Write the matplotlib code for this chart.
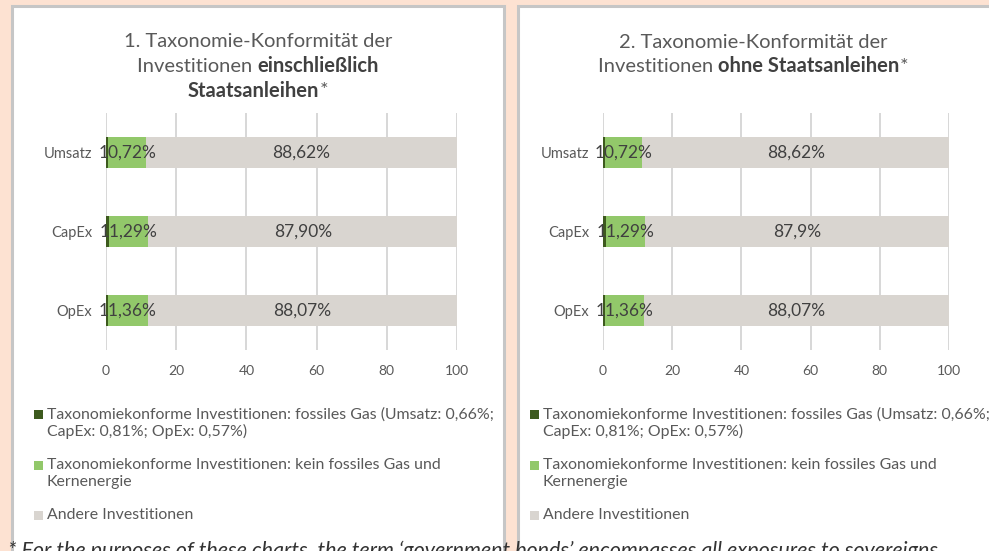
import matplotlib
matplotlib.use("Agg")
import matplotlib.pyplot as plt
from matplotlib.patches import Rectangle
import numpy as np

# === Data ===
categories = ["Umsatz", "CapEx", "OpEx"]
gas = np.array([0.66, 0.81, 0.57])
green = np.array([10.72, 11.29, 11.36])
other = np.array([88.62, 87.90, 88.07])
green_labels = ["10,72%", "11,29%", "11,36%"]
other_labels_1 = ["88,62%", "87,90%", "88,07%"]
other_labels_2 = ["88,62%", "87,9%", "88,07%"]
x_ticks = [0, 20, 40, 60, 80, 100]
legend_labels = [
    "Taxonomiekonforme Investitionen: fossiles Gas (Umsatz: 0,66%;\nCapEx: 0,81%; OpEx: 0,57%)",
    "Taxonomiekonforme Investitionen: kein fossiles Gas und\nKernenergie",
    "Andere Investitionen",
]

# colours
c_gas = "#3d5a1e"
c_green = "#92c86a"
c_other = "#d9d5d0"
c_bg = "#fde2d2"
c_border = "#c6c6c6"
c_text = "#595959"
c_label = "#404040"

plt.rcParams["font.family"] = ["Lato", "DejaVu Sans"]

W, H = 989, 551
fig = plt.figure(figsize=(W / 100, H / 100), dpi=100)
fig.patch.set_facecolor(c_bg)


def fx(px):
    return px / W


def fy(py):
    return 1 - py / H


# white panels with grey border
for x0, x1 in [(12, 504), (518, 1010)]:
    fig.patches.append(Rectangle((fx(x0), fy(570)), fx(x1 - x0), (570 - 6) / H,
                                 transform=fig.transFigure, facecolor="white",
                                 edgecolor=c_border, linewidth=2.2, zorder=-5))

renderer = fig.canvas.get_renderer()


def mixed_line(xc, yc, parts, size=14.5):
    # parts: list of (text, weight, colour); centred on xc
    arts = []
    for txt, weight, col in parts:
        t = fig.text(0, fy(yc), txt, fontsize=size, fontweight=weight, color=col,
                     ha="left", va="center")
        arts.append(t)
    widths = [t.get_window_extent(renderer).width for t in arts]
    x = xc - sum(widths) / 2
    for t, w in zip(arts, widths):
        t.set_x(fx(x))
        x += w


def draw_panel(left_px, right_px, other_labels, gas_vals):
    ax = fig.add_axes([fx(left_px), fy(350), fx(right_px - left_px), (350 - 113) / H])
    ax.set_zorder(2)
    y = np.arange(len(categories))
    h = 0.39
    ax.barh(y, gas_vals, height=h, color=c_gas, zorder=3)
    ax.barh(y, green, left=gas_vals, height=h, color=c_green, zorder=3)
    ax.barh(y, other, left=gas_vals + green, height=h, color=c_other, zorder=3)
    for i in range(len(categories)):
        ax.text(gas_vals[i] + green[i] / 2, y[i], green_labels[i], ha="center", va="center",
                fontsize=12.5, color=c_label, zorder=4)
        ax.text(gas_vals[i] + green[i] + other[i] / 2, y[i], other_labels[i], ha="center",
                va="center", fontsize=12.5, color=c_label, zorder=4)
    ax.set_xlim(0, 100)
    ax.set_ylim(2.5, -0.5)
    ax.set_xticks(x_ticks)
    ax.set_xticklabels([str(v) for v in x_ticks])
    ax.set_yticks(y)
    ax.set_yticklabels(categories)
    ax.tick_params(axis="x", length=0, pad=11, labelsize=10, labelcolor=c_text)
    ax.tick_params(axis="y", length=0, pad=10, labelsize=10.5, labelcolor=c_text)
    ax.grid(axis="x", color="#d4d4d4", linewidth=1.3, zorder=0)
    ax.set_axisbelow(True)
    for s in ax.spines.values():
        s.set_visible(False)
    ax.patch.set_alpha(0)
    return ax


draw_panel(106, 457, other_labels_1, gas)
draw_panel(603, 949, other_labels_2, gas)

# titles
mixed_line(258, 41, [("1. Taxonomie-Konformität der", "normal", c_text)])
mixed_line(258, 66, [("Investitionen ", "normal", c_text), ("einschließlich", "bold", c_label)])
mixed_line(258, 91, [("Staatsanleihen", "bold", c_label), ("*", "normal", c_text)])
mixed_line(753, 42, [("2. Taxonomie-Konformität der", "normal", c_text)])
mixed_line(753, 66, [("Investitionen ", "normal", c_text), ("ohne Staatsanleihen", "bold", c_label),
                     ("*", "normal", c_text)])

# legends
legend_colors = [c_gas, c_green, c_other]
legend_y = [415, 466, 516]
for sq_x in [34, 530]:
    for lab, col, ly in zip(legend_labels, legend_colors, legend_y):
        fig.patches.append(Rectangle((fx(sq_x), fy(ly + 4)), fx(9), 9 / H,
                                     transform=fig.transFigure, facecolor=col,
                                     edgecolor="none", zorder=2))
        fig.text(fx(sq_x + 13), fy(ly - 8), lab, fontsize=11.4, color=c_text, ha="left",
                 va="top", linespacing=1.25)

# footnote, cut at the bottom edge as in the source
fig.text(fx(8), fy(541), "* For the purposes of these charts, the term \u2018government bonds\u2019 "
         "encompasses all exposures to sovereigns", fontsize=15.5, style="italic",
         color="#333333", ha="left", va="top")

fig.savefig("out.png", dpi=100, facecolor=c_bg)
